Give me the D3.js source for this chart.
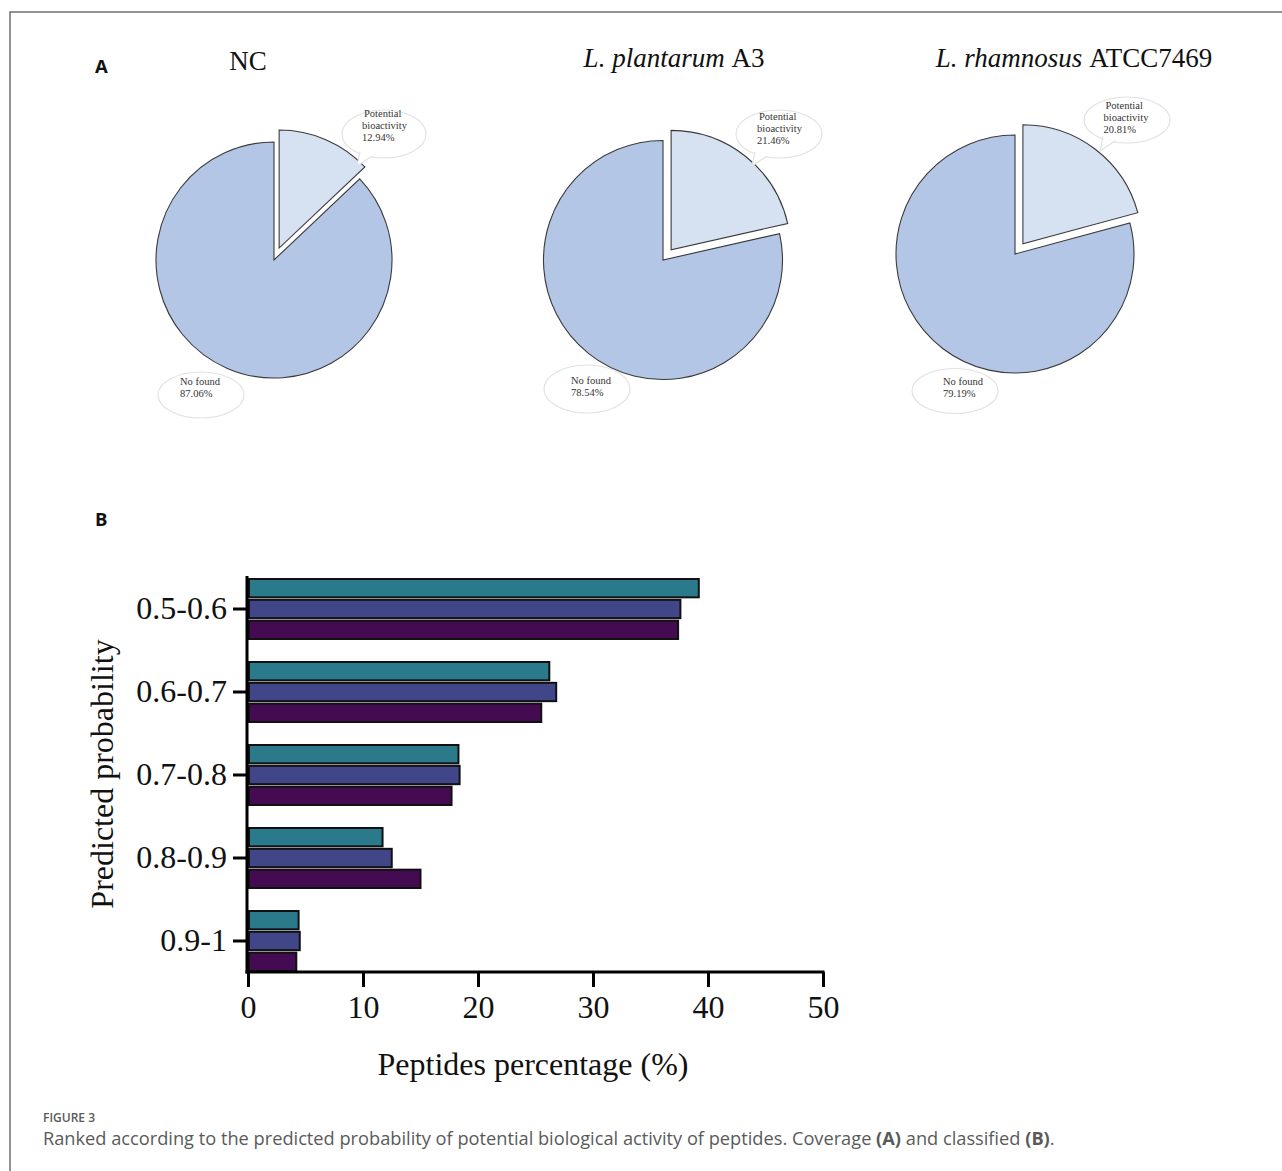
<!DOCTYPE html>
<html>
<head>
<meta charset="utf-8">
<script src="https://cdn.jsdelivr.net/npm/d3@7"></script>
<style>
  html, body { margin: 0; padding: 0; background: #fff; }
  svg { display: block; }
</style>
</head>
<body>
<svg id="fig" width="1282" height="1171"></svg>
<script>
// ---- Panel A: coverage of peptides with potential bioactivity ----
const groups = ["NC", "L. plantarum A3", "L. rhamnosus ATCC7469"];
const potentialPct = [12.94, 21.46, 20.81];
const noFoundPct = [87.06, 78.54, 79.19];

// ---- Panel B: distribution by predicted probability ----
const probBins = ["0.5-0.6", "0.6-0.7", "0.7-0.8", "0.8-0.9", "0.9-1"];
const seriesTeal = [39.2, 26.2, 18.3, 11.7, 4.4];
const seriesBlue = [37.6, 26.8, 18.4, 12.5, 4.5];
const seriesPurple = [37.4, 25.5, 17.7, 15.0, 4.2];
const xTicks = [0, 10, 20, 30, 40, 50];

const svg = d3.select("#fig");
const serif = "'Liberation Serif', 'Times New Roman', serif";
const sans = "'Open Sans', 'Noto Sans', sans-serif";

// outer frame (top and left rules)
svg.append("path")
  .attr("d", "M10,1171 V12 H1282")
  .attr("fill", "none").attr("stroke", "#707070").attr("stroke-width", 1.5);

// panel letters
svg.append("text").attr("x", 95).attr("y", 73).text("A")
  .attr("font-family", sans).attr("font-weight", 700).attr("font-size", 18.5).attr("fill", "#111");
svg.append("text").attr("x", 95).attr("y", 526).text("B")
  .attr("font-family", sans).attr("font-weight", 700).attr("font-size", 18.5).attr("fill", "#111");

// ---------- Pies ----------
const pieLayout = [
  { cx: 274, cy: 260, r: 118, title: { x: 248, y: 70 },
    bubbleP: { cx: 384, cy: 134, rx: 42, ry: 24, tail: [[360, 152], [357, 166], [372, 156]] },
    bubbleN: { cx: 201, cy: 395, rx: 43, ry: 23 },
    textP: { x: 362, y: 117 }, textN: { x: 180, y: 385 } },
  { cx: 663, cy: 260, r: 119.5, title: { x: 674, y: 67 },
    bubbleP: { cx: 779, cy: 134, rx: 43, ry: 24, tail: [[755, 152], [752, 166], [767, 156]] },
    bubbleN: { cx: 587, cy: 389, rx: 43, ry: 24 },
    textP: { x: 757, y: 119.5 }, textN: { x: 571, y: 383.5 } },
  { cx: 1015, cy: 254, r: 119, title: { x: 1074, y: 67 },
    bubbleP: { cx: 1127, cy: 120, rx: 43, ry: 23, tail: [[1103, 137], [1100, 151], [1115, 141]] },
    bubbleN: { cx: 955, cy: 391, rx: 43, ry: 22.5 },
    textP: { x: 1103.5, y: 108.5 }, textN: { x: 943, y: 385 } }
];

const pie = d3.pie().sort(null).value(d => d.value).startAngle(0).endAngle(2 * Math.PI);
const explode = 13;

groups.forEach((g, i) => {
  const L = pieLayout[i];
  const slices = pie([
    { key: "potential", value: potentialPct[i] },
    { key: "nofound", value: noFoundPct[i] }
  ]);
  const arc = d3.arc().innerRadius(0).outerRadius(L.r);
  const gp = svg.append("g").attr("transform", `translate(${L.cx},${L.cy})`);
  gp.selectAll("path").data(slices).join("path")
    .attr("d", arc)
    .attr("transform", d => {
      if (d.data.key !== "potential") return null;
      const mid = (d.startAngle + d.endAngle) / 2;
      return `translate(${explode * Math.sin(mid)},${-explode * Math.cos(mid)})`;
    })
    .attr("fill", d => d.data.key === "potential" ? "#d6e1f2" : "#b4c6e5")
    .attr("stroke", "#3a3a3a").attr("stroke-width", 1.1).attr("stroke-linejoin", "miter");

  // title
  const t = svg.append("text").attr("x", L.title.x).attr("y", L.title.y)
    .attr("text-anchor", "middle").attr("font-family", serif).attr("font-size", 27).attr("fill", "#111");
  if (g === "NC") {
    t.text(g);
  } else {
    const parts = g.split(" ");
    t.append("tspan").attr("font-style", "italic").text(parts[0] + " " + parts[1] + " ");
    t.append("tspan").text(parts.slice(2).join(" "));
  }

  // callout bubbles
  const bp = L.bubbleP;
  svg.append("ellipse").attr("cx", bp.cx).attr("cy", bp.cy).attr("rx", bp.rx).attr("ry", bp.ry)
    .attr("fill", "#fff").attr("stroke", "#e2e2e2").attr("stroke-width", 1.2);
  svg.append("path").attr("d", "M" + bp.tail.map(p => p.join(",")).join("L"))
    .attr("fill", "#fff").attr("stroke", "#e2e2e2").attr("stroke-width", 1.2);
  const bn = L.bubbleN;
  svg.append("ellipse").attr("cx", bn.cx).attr("cy", bn.cy).attr("rx", bn.rx).attr("ry", bn.ry)
    .attr("fill", "#fff").attr("stroke", "#e2e2e2").attr("stroke-width", 1.2);

  const small = (x, y, s) => svg.append("text").attr("x", x).attr("y", y).text(s)
    .attr("font-family", serif).attr("font-size", 10.5).attr("fill", "#333");
  small(L.textP.x + 2, L.textP.y, "Potential");
  small(L.textP.x, L.textP.y + 12, "bioactivity");
  small(L.textP.x, L.textP.y + 24, potentialPct[i].toFixed(2) + "%");
  small(L.textN.x, L.textN.y, "No found");
  small(L.textN.x, L.textN.y + 12, noFoundPct[i].toFixed(2) + "%");
});

// ---------- Bars ----------
const x = d3.scaleLinear().domain([0, 50]).range([248, 823]);
const y = d3.scaleBand().domain(probBins).range([567.5, 982.5]).padding(0);
const series = [
  { values: seriesTeal, color: "#2b7a8c" },
  { values: seriesBlue, color: "#414689" },
  { values: seriesPurple, color: "#440b52" }
];
const yInner = d3.scaleBand().domain(d3.range(series.length))
  .range([-30, 30]).paddingInner(0.12);

const bars = svg.append("g");
series.forEach((s, si) => {
  bars.selectAll(null).data(probBins).join("rect")
    .attr("x", x(0) + 1)
    .attr("y", d => y(d) + y.bandwidth() / 2 + yInner(si))
    .attr("width", (d, k) => x(s.values[k]) - x(0) - 1)
    .attr("height", yInner.bandwidth())
    .attr("fill", s.color)
    .attr("stroke", "#111").attr("stroke-width", 2);
});

const axisColor = "#000";
// y axis
const yAxis = svg.append("g").attr("transform", "translate(247,0)")
  .call(d3.axisLeft(y).tickSize(14).tickPadding(6));
yAxis.select(".domain").remove();
yAxis.selectAll(".tick line").attr("stroke", axisColor).attr("stroke-width", 3);
yAxis.selectAll(".tick text").attr("font-family", serif).attr("font-size", 32).attr("fill", "#111");
svg.append("line").attr("x1", 247).attr("x2", 247).attr("y1", 576).attr("y2", 973.5)
  .attr("stroke", axisColor).attr("stroke-width", 3);

// x axis
const xAxis = svg.append("g").attr("transform", "translate(0,972)")
  .call(d3.axisBottom(x).tickValues(xTicks).tickSize(15).tickPadding(8).tickFormat(d3.format("d")));
xAxis.select(".domain").remove();
xAxis.selectAll(".tick line").attr("stroke", axisColor).attr("stroke-width", 3);
xAxis.selectAll(".tick text").attr("font-family", serif).attr("font-size", 32).attr("fill", "#111");
svg.append("line").attr("x1", 245.5).attr("x2", 824.5).attr("y1", 972).attr("y2", 972)
  .attr("stroke", axisColor).attr("stroke-width", 3);

// axis titles
svg.append("text").attr("x", 533).attr("y", 1075).attr("text-anchor", "middle")
  .attr("font-family", serif).attr("font-size", 32).attr("fill", "#111")
  .text("Peptides percentage (%)");
svg.append("text").attr("transform", "translate(113,774) rotate(-90)").attr("text-anchor", "middle")
  .attr("font-family", serif).attr("font-size", 32).attr("fill", "#111")
  .text("Predicted probability");

// ---------- Caption ----------
svg.append("text").attr("x", 43).attr("y", 1122)
  .attr("font-family", sans).attr("font-weight", 600).attr("font-size", 12)
  .attr("fill", "#5a5a5a").text("FIGURE 3");
const cap = svg.append("text").attr("x", 43).attr("y", 1145)
  .attr("font-family", sans).attr("font-size", 16).attr("fill", "#5a5a5a");
cap.append("tspan").text("Ranked according to the predicted probability of potential biological activity of peptides. Coverage ");
cap.append("tspan").attr("font-weight", 700).text("(A)");
cap.append("tspan").text(" and classified ");
cap.append("tspan").attr("font-weight", 700).text("(B)");
cap.append("tspan").text(".");
// fit the caption to its column width
const capW = cap.node().getComputedTextLength();
cap.attr("font-size", 16 * 1012 / capW);
</script>
</body>
</html>
